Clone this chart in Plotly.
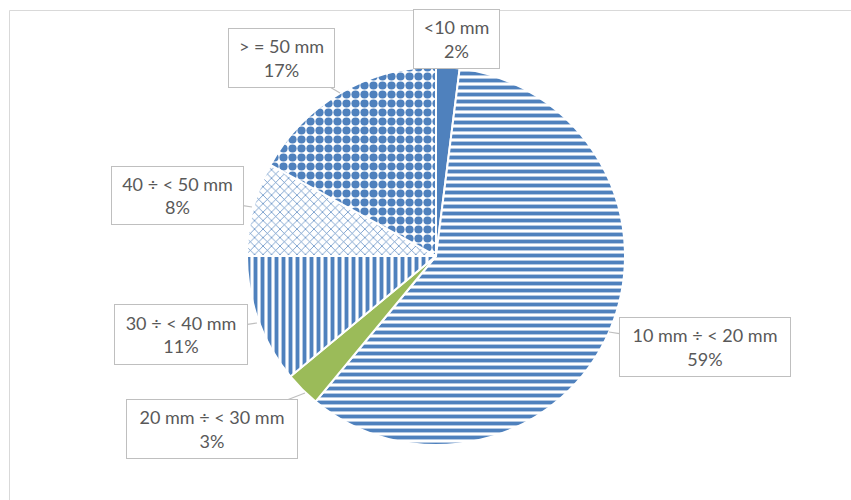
import plotly.graph_objects as go

W, H = 851, 500

categories = ["<10 mm", "10 mm ÷ < 20 mm", "20 mm ÷ < 30 mm", "30 ÷ < 40 mm", "40 ÷ < 50 mm", "> = 50 mm"]
values = [2, 59, 3, 11, 8, 17]
pct_labels = ["2%", "59%", "3%", "11%", "8%", "17%"]

BLUE = "#4F81BD"
GREEN = "#9BBB59"

slice_colors = [BLUE, "white", GREEN, "white", "white", "white"]
pattern_shapes = ["", "-", "", "|", "x", "."]
pattern_sizes = [8, 7, 8, 7, 6, 9]
pattern_solid = [0.3, 0.55, 0.3, 0.55, 0.22, 0.65]

# label box layout per category: (box center px, tip px or None, width, height)
label_layout = {
    0: ((457, 39), None, 85, 58),
    1: ((705, 347), (609, 332), 170, 58),
    2: ((212, 429), (305, 393), 170, 58),
    3: ((181, 334), (257, 323), 132, 59),
    4: ((177, 196), (252, 207), 131, 57),
    5: ((281, 58), (340, 93), 105, 58),
}

fig = go.Figure()
fig.add_trace(go.Pie(
    labels=categories,
    values=values,
    sort=False,
    direction="clockwise",
    rotation=0,
    textinfo="none",
    hoverinfo="label+percent",
    showlegend=False,
    marker=dict(
        colors=slice_colors,
        line=dict(color="white", width=2),
        pattern=dict(shape=pattern_shapes, fgcolor=BLUE, bgcolor="white",
                     size=pattern_sizes, solidity=pattern_solid, fillmode="replace"),
    ),
    domain=dict(x=[(436 - 189) / W, (436 + 189) / W], y=[(244 - 189) / H, (244 + 189) / H]),
))

annotations = []
for i, cat in enumerate(categories):
    (cx, cy), tip, bw, bh = label_layout[i]
    text = f"{cat}<br>{pct_labels[i]}"
    common = dict(
        text=text, xref="paper", yref="paper",
        font=dict(family="Lato, Calibri, sans-serif", size=18, color="#595959"),
        bordercolor="#BFBFBF", borderwidth=1, bgcolor="white", borderpad=0,
        width=bw, height=bh, align="center",
    )
    if tip is None:
        annotations.append(dict(x=cx / W, y=1 - cy / H, showarrow=False,
                                xanchor="center", yanchor="middle", **common))
    else:
        tx, ty = tip
        annotations.append(dict(x=tx / W, y=1 - ty / H, showarrow=True,
                                ax=cx - tx, ay=cy - ty, axref="pixel", ayref="pixel",
                                arrowhead=0, arrowwidth=1.2, arrowcolor="#BFBFBF",
                                **common))

fig.update_layout(
    width=W, height=H,
    margin=dict(l=0, r=0, t=0, b=0),
    paper_bgcolor="white",
    plot_bgcolor="white",
    annotations=annotations,
    shapes=[dict(type="rect", xref="paper", yref="paper",
                 x0=9.5 / W, x1=1.05, y0=-0.05, y1=1 - 10.5 / H,
                 line=dict(color="#D9D9D9", width=1), fillcolor="rgba(0,0,0,0)", layer="below")],
)

fig.write_html("out.html")
